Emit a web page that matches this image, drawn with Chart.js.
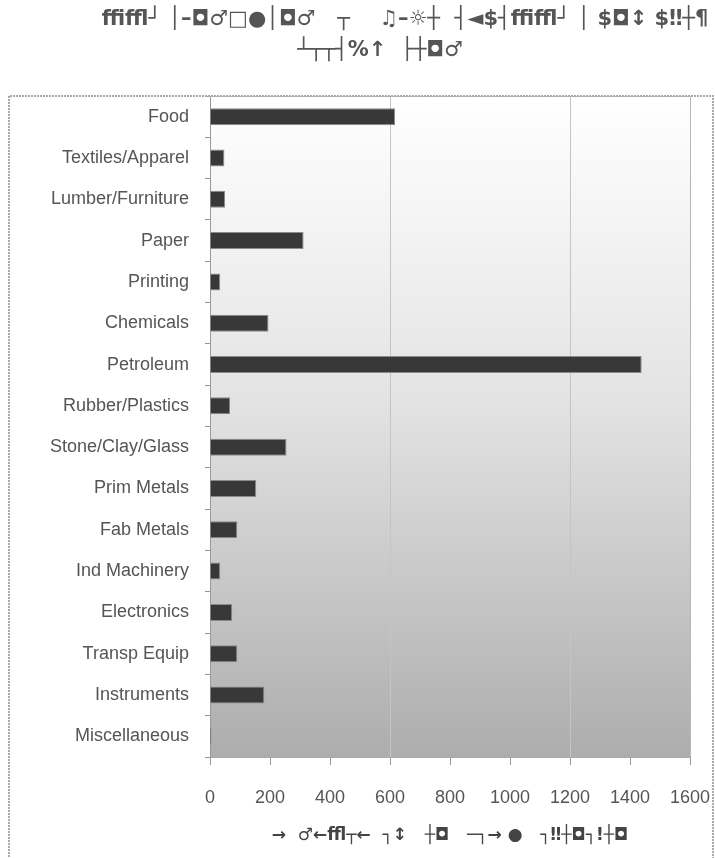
<!DOCTYPE html>
<html>
<head>
<meta charset="utf-8">
<script src="https://cdn.jsdelivr.net/npm/chart.js@4/dist/chart.umd.min.js"></script>
<style>
  html, body { margin: 0; padding: 0; background: #fff; }
  #wrap { width: 715px; height: 858px; position: relative; }
</style>
</head>
<body>
<div id="wrap"><canvas id="grafico" width="715" height="858"></canvas></div>
<script>
// dados
const categorias = ['Food', 'Textiles/Apparel', 'Lumber/Furniture', 'Paper', 'Printing', 'Chemicals',
  'Petroleum', 'Rubber/Plastics', 'Stone/Clay/Glass', 'Prim Metals', 'Fab Metals', 'Ind Machinery',
  'Electronics', 'Transp Equip', 'Instruments', 'Miscellaneous'];
const valores = [617, 48, 50, 312, 34, 195, 1439, 67, 255, 154, 91, 34, 74, 91, 181, 5];
const xMin = 0;
const xMax = 1600;
const xPasso = 200;
const linhasGrade = [600, 1200];

const tituloLinhas = ['ffiffl┘ │–◘♂□●│◘♂   ┬    ♫–☼┼  ┤◄$┤ffiffl┘ │ $◘↕ $‼┼¶', '┴┬┬┤%↑  ├┼◘♂'];
const tituloEixoX = '→  ♂←ffl┬←  ┐↕   ┼◘   ─┐→ ●   ┐‼┼◘┐!┼◘';

const fonte = '"Liberation Sans", Arial, sans-serif';

// fundo em degradê, moldura e título
const fundoPlugin = {
  id: 'fundo',
  beforeDraw(chart) {
    const { ctx, chartArea: a } = chart;
    ctx.save();
    ctx.fillStyle = '#fff';
    ctx.fillRect(0, 0, chart.width, chart.height);
    const g = ctx.createLinearGradient(0, a.top, 0, a.bottom);
    g.addColorStop(0, '#ffffff');
    g.addColorStop(0.45, '#e4e4e4');
    g.addColorStop(1, '#adadad');
    ctx.fillStyle = g;
    ctx.fillRect(a.left, a.top, a.right - a.left, a.bottom - a.top);
    ctx.restore();
  },
  afterDraw(chart) {
    const { ctx, chartArea: a } = chart;
    ctx.save();
    // borda da área do gráfico
    ctx.strokeStyle = '#b8b8b8';
    ctx.lineWidth = 1;
    ctx.beginPath();
    ctx.moveTo(a.left, a.top + 0.5);
    ctx.lineTo(a.right + 0.5, a.top + 0.5);
    ctx.lineTo(a.right + 0.5, a.bottom);
    ctx.stroke();
    // moldura externa
    ctx.fillStyle = '#fff';
    ctx.fillRect(713, 0, 2, chart.height);
    ctx.strokeStyle = '#aaa';
    ctx.lineWidth = 2;
    ctx.setLineDash([2, 1]);
    ctx.beginPath();
    ctx.moveTo(9, chart.height + 5);
    ctx.lineTo(9, 96);
    ctx.lineTo(713, 96);
    ctx.lineTo(713, chart.height + 5);
    ctx.stroke();
    ctx.setLineDash([]);
    // título
    ctx.fillStyle = '#555';
    ctx.textAlign = 'center';
    ctx.textBaseline = 'middle';
    ctx.font = 'bold 21px "DejaVu Sans", sans-serif';
    tituloLinhas.forEach((t, i) => ctx.fillText(t, 405 - i * 25, 20 + i * 31));
    ctx.restore();
  }
};

const ctx = document.getElementById('grafico').getContext('2d');
const grafico = new Chart(ctx, {
  type: 'bar',
  data: {
    labels: categorias,
    datasets: [{
      data: valores,
      backgroundColor: '#383838',
      borderColor: '#8a8a8a',
      borderWidth: 1,
      categoryPercentage: 0.82,
      barPercentage: 0.5
    }]
  },
  options: {
    indexAxis: 'y',
    responsive: false,
    animation: false,
    devicePixelRatio: 1,
    layout: { padding: { top: 96, left: 9, right: 25, bottom: 0 } },
    plugins: {
      legend: { display: false },
      title: { display: false },
      tooltip: { enabled: false }
    },
    scales: {
      x: {
        min: xMin,
        max: xMax,
        ticks: {
          stepSize: xPasso,
          color: '#555',
          font: { family: fonte, size: 18 },
          padding: 22,
          callback: v => String(v)
        },
        grid: {
          color: c => linhasGrade.includes(c.tick && c.tick.value) ? '#c4c4c4' : 'rgba(0,0,0,0)',
          tickColor: '#999',
          tickLength: 8,
          drawOnChartArea: true
        },
        border: { color: '#aaa' },
        title: {
          display: true,
          text: tituloEixoX,
          color: '#444',
          font: { family: '"DejaVu Sans", sans-serif', size: 17, weight: 'bold' },
          padding: { top: 4, bottom: 12 }
        },
        afterFit(scale) {
          scale.height = 101;
          scale.paddingRight = 0;
        }
      },
      y: {
        ticks: {
          color: '#555',
          font: { family: fonte, size: 18 },
          padding: 16,
          autoSkip: false
        },
        grid: {
          drawOnChartArea: false,
          offset: true,
          tickLength: 5,
          tickColor: '#999'
        },
        border: { color: '#999' },
        afterFit(scale) { scale.width = 201; }
      }
    }
  },
  plugins: [fundoPlugin]
});
</script>
</body>
</html>
